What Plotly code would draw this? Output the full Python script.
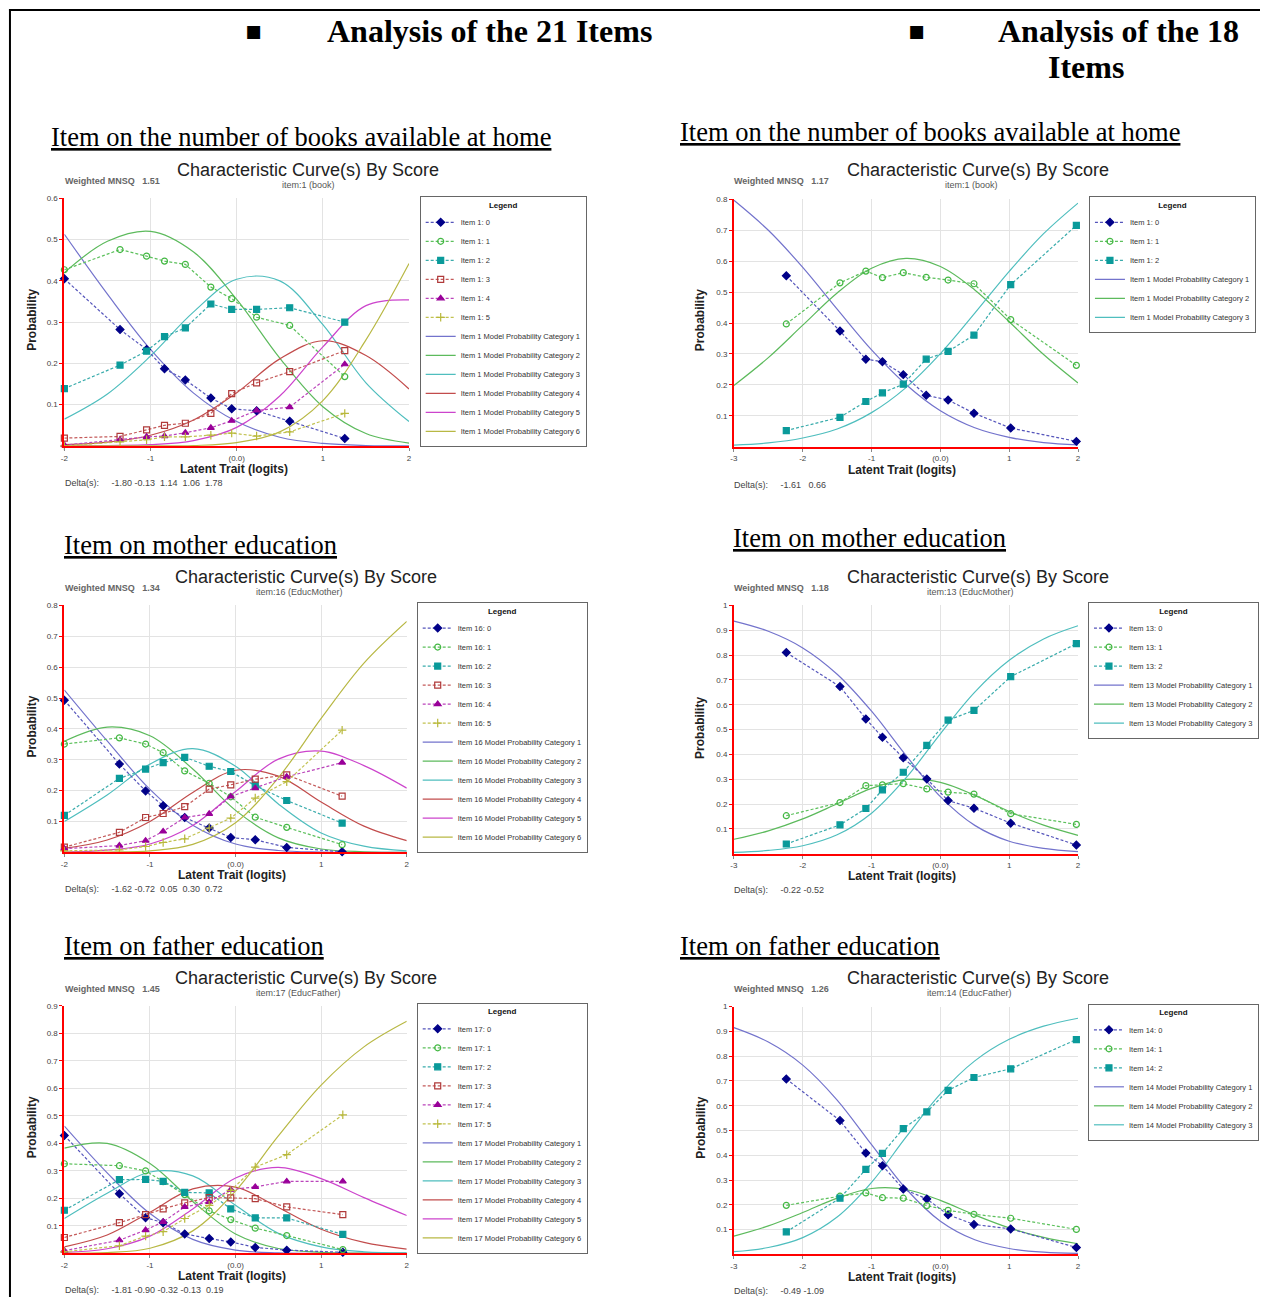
import plotly.graph_objects as go

W, H = 1263, 1297

# ---------------- DATA ----------------
# Panel A: 21-item analysis, item 1 (book)
obs_x_A = [-2.0, -1.354, -1.046, -0.838, -0.596, -0.300, -0.058, 0.231, 0.615, 1.254]
obs_A = [
    [0.405, 0.282, 0.234, 0.187, 0.160, 0.116, 0.090, 0.085, 0.060, 0.018],
    [0.427, 0.476, 0.460, 0.448, 0.440, 0.385, 0.357, 0.312, 0.292, 0.168],
    [0.139, 0.196, 0.230, 0.265, 0.286, 0.344, 0.331, 0.331, 0.335, 0.300],
    [0.019, 0.023, 0.039, 0.050, 0.055, 0.079, 0.127, 0.153, 0.180, 0.231],
    [0.002, 0.015, 0.022, 0.024, 0.032, 0.044, 0.061, 0.086, 0.094, 0.198],
    [0.000, 0.010, 0.015, 0.022, 0.022, 0.026, 0.031, 0.024, 0.034, 0.079],
]
model_x_A = [-2, -1.5, -1, -0.5, 0, 0.5, 1, 1.5, 2]
model_A = [
    [0.513, 0.368, 0.234, 0.128, 0.059, 0.021, 0.006, 0.001, 0.000],
    [0.420, 0.496, 0.520, 0.470, 0.355, 0.213, 0.095, 0.030, 0.007],
    [0.065, 0.126, 0.218, 0.325, 0.404, 0.400, 0.294, 0.153, 0.059],
    [0.003, 0.009, 0.026, 0.063, 0.129, 0.211, 0.255, 0.219, 0.138],
    [0.000, 0.001, 0.003, 0.013, 0.045, 0.121, 0.240, 0.340, 0.354],
    [0.000, 0.000, 0.000, 0.001, 0.008, 0.034, 0.110, 0.257, 0.442],
]

# Panel B: 18-item analysis, item 1 (book)
obs_x_B = [-2.239, -1.459, -1.083, -0.842, -0.539, -0.206, 0.112, 0.488, 1.022, 1.976]
obs_B = [
    [0.553, 0.374, 0.283, 0.275, 0.233, 0.166, 0.151, 0.108, 0.060, 0.017],
    [0.397, 0.530, 0.568, 0.547, 0.563, 0.548, 0.539, 0.527, 0.411, 0.263],
    [0.052, 0.095, 0.146, 0.174, 0.202, 0.283, 0.308, 0.361, 0.524, 0.716],
]
model_x_B = [-3, -2.5, -2, -1.5, -1, -0.5, 0, 0.5, 1, 1.5, 2]
model_B = [
    [0.797, 0.700, 0.580, 0.445, 0.313, 0.201, 0.116, 0.061, 0.030, 0.013, 0.006],
    [0.198, 0.288, 0.393, 0.497, 0.577, 0.609, 0.583, 0.507, 0.404, 0.298, 0.206],
    [0.005, 0.012, 0.028, 0.057, 0.110, 0.191, 0.301, 0.432, 0.567, 0.689, 0.788],
]

# Panel C: 21-item analysis, item 16 (EducMother)
obs_x_C = [-2.0, -1.357, -1.051, -0.846, -0.594, -0.308, -0.056, 0.230, 0.598, 1.245]
obs_C = [
    [0.493, 0.286, 0.199, 0.151, 0.113, 0.079, 0.048, 0.041, 0.016, 0.002],
    [0.351, 0.371, 0.351, 0.323, 0.264, 0.224, 0.180, 0.114, 0.081, 0.025],
    [0.120, 0.240, 0.270, 0.291, 0.308, 0.279, 0.262, 0.216, 0.168, 0.095],
    [0.017, 0.065, 0.113, 0.126, 0.148, 0.205, 0.219, 0.237, 0.251, 0.182],
    [0.012, 0.022, 0.038, 0.068, 0.113, 0.125, 0.181, 0.208, 0.245, 0.291],
    [0.005, 0.008, 0.019, 0.032, 0.044, 0.079, 0.111, 0.176, 0.229, 0.396],
]
model_x_C = [-2, -1.5, -1, -0.5, 0, 0.5, 1, 1.5, 2]
model_C = [
    [0.526, 0.361, 0.204, 0.088, 0.027, 0.006, 0.001, 0.000, 0.000],
    [0.360, 0.406, 0.378, 0.270, 0.136, 0.047, 0.011, 0.002, 0.000],
    [0.100, 0.186, 0.286, 0.336, 0.279, 0.157, 0.063, 0.020, 0.005],
    [0.013, 0.040, 0.100, 0.194, 0.266, 0.247, 0.163, 0.085, 0.038],
    [0.001, 0.007, 0.027, 0.087, 0.197, 0.302, 0.328, 0.281, 0.208],
    [0.000, 0.001, 0.005, 0.026, 0.096, 0.242, 0.434, 0.613, 0.748],
]

# Panel D: 18-item analysis, item 13 (EducMother)
obs_x_D = [-2.239, -1.459, -1.083, -0.842, -0.539, -0.197, 0.112, 0.488, 1.022, 1.976]
obs_D = [
    [0.810, 0.673, 0.543, 0.469, 0.386, 0.301, 0.214, 0.183, 0.123, 0.035],
    [0.153, 0.206, 0.274, 0.277, 0.282, 0.261, 0.248, 0.240, 0.161, 0.118],
    [0.039, 0.116, 0.182, 0.257, 0.328, 0.436, 0.538, 0.577, 0.713, 0.846],
]
model_x_D = [-3, -2.5, -2, -1.5, -1, -0.5, 0, 0.5, 1, 1.5, 2]
model_D = [
    [0.937, 0.896, 0.829, 0.723, 0.574, 0.396, 0.230, 0.114, 0.050, 0.021, 0.008],
    [0.058, 0.092, 0.140, 0.201, 0.263, 0.299, 0.287, 0.235, 0.170, 0.115, 0.074],
    [0.005, 0.013, 0.032, 0.076, 0.163, 0.305, 0.483, 0.651, 0.779, 0.865, 0.918],
]

# Panel E: 21-item analysis, item 17 (EducFather)
obs_x_E = [-2.0, -1.357, -1.051, -0.846, -0.594, -0.308, -0.056, 0.230, 0.598, 1.253]
obs_E = [
    [0.429, 0.217, 0.130, 0.112, 0.071, 0.054, 0.042, 0.022, 0.012, 0.004],
    [0.326, 0.319, 0.300, 0.261, 0.214, 0.155, 0.123, 0.092, 0.065, 0.014],
    [0.157, 0.268, 0.269, 0.262, 0.222, 0.220, 0.162, 0.129, 0.129, 0.069],
    [0.058, 0.112, 0.141, 0.162, 0.184, 0.203, 0.202, 0.199, 0.169, 0.141],
    [0.010, 0.048, 0.085, 0.115, 0.169, 0.187, 0.232, 0.242, 0.262, 0.262],
    [0.006, 0.028, 0.063, 0.079, 0.127, 0.175, 0.229, 0.314, 0.359, 0.504],
]
model_x_E = [-2, -1.5, -1, -0.5, 0, 0.5, 1, 1.5, 2]
model_E = [
    [0.463, 0.293, 0.145, 0.051, 0.012, 0.002, 0.000, 0.000, 0.000],
    [0.383, 0.400, 0.327, 0.189, 0.071, 0.018, 0.004, 0.001, 0.000],
    [0.127, 0.219, 0.296, 0.282, 0.175, 0.073, 0.024, 0.006, 0.002],
    [0.024, 0.067, 0.150, 0.235, 0.241, 0.167, 0.088, 0.040, 0.016],
    [0.004, 0.017, 0.063, 0.162, 0.274, 0.313, 0.272, 0.203, 0.138],
    [0.000, 0.003, 0.019, 0.082, 0.227, 0.427, 0.612, 0.751, 0.844],
]

# Panel F: 18-item analysis, item 14 (EducFather)
obs_x_F = [-2.239, -1.459, -1.083, -0.842, -0.539, -0.197, 0.112, 0.488, 1.022, 1.976]
obs_F = [
    [0.708, 0.540, 0.409, 0.358, 0.264, 0.224, 0.160, 0.121, 0.103, 0.028],
    [0.198, 0.235, 0.248, 0.229, 0.227, 0.197, 0.178, 0.162, 0.146, 0.101],
    [0.091, 0.227, 0.343, 0.408, 0.508, 0.575, 0.662, 0.714, 0.749, 0.867],
]
model_x_F = [-3, -2.5, -2, -1.5, -1, -0.5, 0, 0.5, 1, 1.5, 2]
model_F = [
    [0.915, 0.857, 0.764, 0.623, 0.443, 0.265, 0.134, 0.059, 0.024, 0.009, 0.004],
    [0.074, 0.115, 0.169, 0.227, 0.266, 0.262, 0.218, 0.159, 0.107, 0.069, 0.043],
    [0.011, 0.028, 0.068, 0.151, 0.291, 0.473, 0.648, 0.781, 0.868, 0.921, 0.953],
]

item_ids = ["1", "1", "16", "13", "17", "14"]
item_desc = ["item:1 (book)", "item:1 (book)", "item:16 (EducMother)",
             "item:13 (EducMother)", "item:17 (EducFather)", "item:14 (EducFather)"]
mnsq_vals = ["1.51", "1.17", "1.34", "1.18", "1.45", "1.26"]
delta_vals = ["-1.80 -0.13  1.14  1.06  1.78", "-1.61   0.66", "-1.62 -0.72  0.05  0.30  0.72",
              "-0.22 -0.52", "-1.81 -0.90 -0.32 -0.13  0.19", "-0.49 -1.09"]
y_max_vals = [0.6, 0.8, 0.8, 1.0, 0.9, 1.0]
x_min_vals = [-2, -3, -2, -3, -2, -3]
x_max_vals = [2, 2, 2, 2, 2, 2]

section_titles = ["Analysis of the 21 Items", "Analysis of the 18", "Items"]
item_headings = ["Item on the number of books available at home",
                 "Item on the number of books available at home",
                 "Item on mother education", "Item on mother education",
                 "Item on father education", "Item on father education"]

obs_sets = [(obs_x_A, obs_A), (obs_x_B, obs_B), (obs_x_C, obs_C),
            (obs_x_D, obs_D), (obs_x_E, obs_E), (obs_x_F, obs_F)]
model_sets = [(model_x_A, model_A), (model_x_B, model_B), (model_x_C, model_C),
              (model_x_D, model_D), (model_x_E, model_E), (model_x_F, model_F)]

# ---------------- STYLE / LAYOUT ----------------
obs_colors = ["#000088", "#44b844", "#0a9a9a", "#b03a3a", "#990099", "#b8b83a"]
obs_line_colors = ["#5555bb", "#5cc05c", "#3aacac", "#c45a5a", "#bb44bb", "#c2c250"]
obs_symbols = ["diamond", "circle-open", "square", "square-open", "triangle-up", "cross-thin"]
model_colors = ["#7373cc", "#5cba5c", "#4fbebe", "#c24c4c", "#cc44cc", "#b8b844"]

SANS = "Liberation Sans, Arial, sans-serif"
SERIF = "Liberation Serif, Times New Roman, serif"

# pixel geometry for each panel
geo = [
    dict(px=(60.7, 407.3), py=(195, 443.3), title=(306, 167), sub=(306, 182), mnsq=(60, 178),
         prob=(28, 317), latent=(231, 466), delta=(60, 480), leg=(418, 193)),
    dict(px=(734, 1080), py=(196, 444), title=(979, 167), sub=(973, 182), mnsq=(733, 178),
         prob=(700, 317), latent=(903, 467), delta=(733, 482), leg=(1091, 193)),
    dict(px=(60.7, 405), py=(603.3, 851), title=(304, 575), sub=(297, 590), mnsq=(60, 586),
         prob=(28, 725), latent=(229, 874), delta=(60, 888), leg=(415, 600)),
    dict(px=(734, 1080), py=(603.3, 852.3), title=(979, 575), sub=(972, 590), mnsq=(733, 586),
         prob=(700, 726), latent=(903, 875), delta=(733, 889), leg=(1090, 600)),
    dict(px=(60.7, 405), py=(1005, 1253.3), title=(304, 977), sub=(296, 992), mnsq=(60, 988),
         prob=(28, 1127), latent=(229, 1276), delta=(60, 1290), leg=(415, 1002)),
    dict(px=(734, 1080), py=(1005.7, 1254.3), title=(979, 977), sub=(971, 992), mnsq=(733, 988),
         prob=(700, 1127), latent=(903, 1277), delta=(733, 1291), leg=(1090, 1003)),
]


def fx(p):
    return p / W


def fy(p):
    return 1 - p / H


fig = go.Figure()
annotations = []
layout_axes = {}


def A(text, p, size, color="#222", xanchor="center", family=SANS, angle=0):
    annotations.append(dict(text=text, x=fx(p[0]), y=fy(p[1]), xref="paper", yref="paper",
                            xanchor=xanchor, yanchor="middle", showarrow=False, borderpad=0,
                            textangle=angle, font=dict(size=size, color=color, family=family)))


for i in range(6):
    n = i + 1
    sfx = "" if n == 1 else str(n)
    xa, ya, leg = "x" + sfx, "y" + sfx, "legend" + sfx
    ox, oys = obs_sets[i]
    mx, mys = model_sets[i]
    item = item_ids[i]

    # model curves (drawn first, listed last in legend)
    for k, ys in enumerate(mys):
        fig.add_trace(go.Scatter(
            x=mx, y=ys, mode="lines", xaxis=xa, yaxis=ya, legend=leg,
            name=f"Item {item} Model Probability Category {k + 1}",
            line=dict(color=model_colors[k], width=1.2, shape="spline"),
            legendrank=100 + k, hoverinfo="skip"))
    # observed
    for k, ys in enumerate(oys):
        fig.add_trace(go.Scatter(
            x=ox, y=ys, mode="lines+markers", xaxis=xa, yaxis=ya, legend=leg,
            name=f"Item {item}: {k}",
            line=dict(color=obs_line_colors[k], width=1.2, dash="3px,2px"),
            marker=dict(symbol=obs_symbols[k], size=6, color=obs_colors[k],
                        line=dict(color=obs_colors[k], width=1.2)),
            cliponaxis=False, legendrank=k))

    g = geo[i]
    xmin, xmax, ymax = x_min_vals[i], x_max_vals[i], y_max_vals[i]
    xticks = list(range(xmin, xmax + 1))
    xtext = ["(0.0)" if v == 0 else str(v) for v in xticks]
    nyt = int(round(ymax * 10))
    yticks = [j / 10 for j in range(1, nyt + 1)]
    ytext = ["1" if abs(v - 1) < 1e-9 else f"{v:.1f}" for v in yticks]

    layout_axes["xaxis" + sfx] = dict(
        domain=[fx(g["px"][0]), fx(g["px"][1])], anchor=ya, range=[xmin, xmax],
        tickvals=xticks, ticktext=xtext, showgrid=True, gridcolor="#e3e3e3", gridwidth=1,
        showline=True, linecolor="#ff0000", linewidth=2, zeroline=False,
        ticks="outside", ticklen=3, tickcolor="#888",
        tickfont=dict(size=8, color="#444", family=SANS), fixedrange=True)
    layout_axes["yaxis" + sfx] = dict(
        domain=[fy(g["py"][1]), fy(g["py"][0])], anchor=xa, range=[0, ymax],
        tickvals=yticks, ticktext=ytext, showgrid=True, gridcolor="#e3e3e3", gridwidth=1,
        showline=True, linecolor="#ff0000", linewidth=2, zeroline=False,
        ticks="outside", ticklen=3, tickcolor="#ff0000",
        tickfont=dict(size=8, color="#444", family=SANS), fixedrange=True)

    layout_axes[leg] = dict(
        x=fx(g["leg"][0]), y=fy(g["leg"][1]), xanchor="left", yanchor="top",
        bgcolor="white", bordercolor="#666", borderwidth=1,
        font=dict(size=7.5, color="#333", family=SANS),
        title=dict(text="<b>Legend</b>", side="top center", font=dict(size=8, color="#111", family=SANS)),
        itemwidth=30, tracegroupgap=0, itemclick=False, itemdoubleclick=False)

    A("Characteristic Curve(s) By Score", g["title"], 18, "#222")
    A(item_desc[i], g["sub"], 9, "#555")
    A(f"<b>Weighted MNSQ   {mnsq_vals[i]}</b>", g["mnsq"], 9, "#666", xanchor="left")
    A("<b>Probability</b>", g["prob"], 12, "#222", angle=-90)
    A("<b>Latent Trait (logits)</b>", g["latent"], 12, "#222")
    A(f"Delta(s):     {delta_vals[i]}", g["delta"], 9, "#444", xanchor="left")


# page headings
def P(text, x, y, size, bold=False, xanchor="left", family=SERIF):
    annotations.append(dict(text=(f"<b>{text}</b>" if bold else text), x=fx(x), y=fy(y),
                            xref="paper", yref="paper", xanchor=xanchor, yanchor="middle",
                            showarrow=False, borderpad=0,
                            font=dict(size=size, color="#000", family=family)))


P("▪", 241, 26, 26, family="DejaVu Sans")
P("▪", 908, 26, 26, family="DejaVu Sans")
P(section_titles[0], 324, 27, 32, bold=True)
P(section_titles[1], 999, 27, 32, bold=True)
P(section_titles[2], 1088, 63, 32, bold=True, xanchor="center")

heading_pos = [(46, 133), (679, 128), (59, 543), (732, 536), (59, 945), (679, 945)]
for t, (hx, hy) in zip(item_headings, heading_pos):
    P(f"<u>{t}</u>", hx, hy, 26.5)

shapes = [
    dict(type="line", xref="paper", yref="paper", x0=fx(5), x1=1, y0=fy(6), y1=fy(6),
         line=dict(color="black", width=2)),
    dict(type="line", xref="paper", yref="paper", x0=fx(6), x1=fx(6), y0=fy(5), y1=0,
         line=dict(color="black", width=2)),
]

fig.update_layout(
    width=W, height=H, autosize=False,
    margin=dict(l=0, r=0, t=0, b=0),
    paper_bgcolor="white", plot_bgcolor="white",
    font=dict(family=SANS),
    annotations=annotations, shapes=shapes, showlegend=True,
    **layout_axes)

fig.write_html("out.html", config={"displayModeBar": False},
               post_script="document.body.style.margin='0';document.body.style.overflow='hidden';")
